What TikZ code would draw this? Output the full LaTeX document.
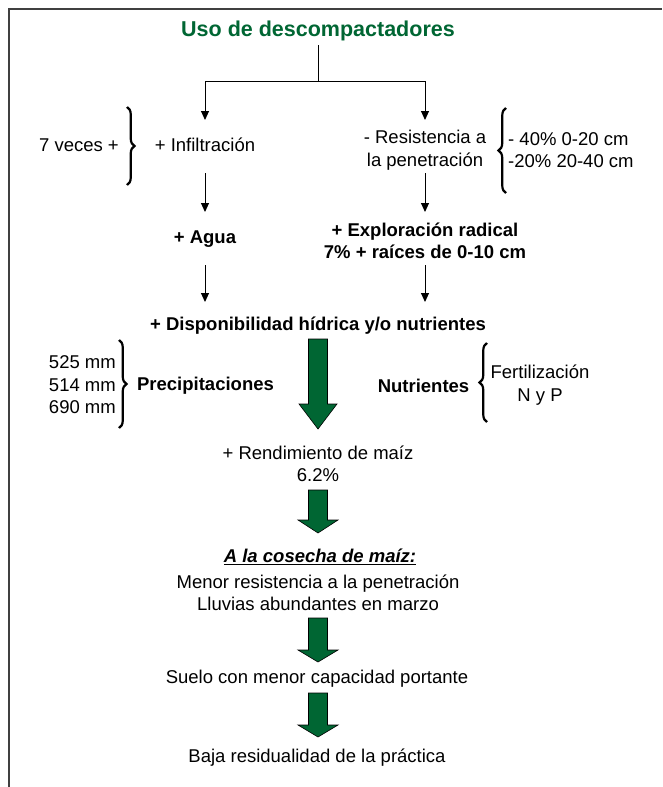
\documentclass[tikz,border=0pt]{standalone}
\usepackage{fontspec}
\setmainfont{Liberation Sans}
\usetikzlibrary{arrows.meta,decorations.pathreplacing}
\definecolor{dgreen}{RGB}{0,102,51}
\newcommand\GreenArrow[5]{\filldraw[garrow] (#1-9.5,#2) -- (#1+9.5,#2) -- (#1+9.5,#3) -- (#1+#5,#3) -- (#1,#4) -- (#1-#5,#3) -- (#1-9.5,#3) -- cycle;}
\begin{document}
\begin{tikzpicture}[x=1pt,y=-1pt,
  txt/.style={font=\fontsize{18.5}{22.5}\selectfont, inner sep=0pt, align=center},
  bold/.style={txt, font=\fontsize{18.5}{22.5}\selectfont\bfseries},
  arr/.style={line width=1pt, -{Triangle[length=9pt,width=8pt]}},
  ln/.style={line width=1pt},
  brc/.style={decorate, decoration={brace, amplitude=7.5pt}, line width=2.2pt},
  garrow/.style={fill=dgreen, draw=black, line width=0.6pt},
  frame/.style={line width=1.6pt, draw=black!75}]
\useasboundingbox (0,0) rectangle (662,787);
\draw[frame] (9,787) -- (9,9) -- (662,9);

\node[txt, font=\fontsize{21.5}{26}\selectfont\bfseries, text=dgreen] (title) at (318,31) {Uso de descompactadores};
\coordinate (j) at (318,81);
\node[txt] (infil) at (205,145) {+ Infiltración};
\node[txt] (res) at (425,150) {- Resistencia a\\la penetración};
\node[txt, anchor=east] (veces) at (119,145) {7 veces +};
\node[txt, align=left, anchor=west] (pct) at (508,150) {- 40\% 0-20 cm\\-20\% 20-40 cm};
\node[bold] (agua) at (205,239) {+ Agua};
\node[bold] (expl) at (425,241) {+ Exploración radical\\7\% + raíces de 0-10 cm};
\node[bold] (disp) at (318,326) {+ Disponibilidad hídrica y/o nutrientes};
\node[txt, align=right, anchor=east] (mm) at (116,385) {525 mm\\514 mm\\690 mm};
\node[bold] (prec) at (205.5,386) {Precipitaciones};
\node[bold] (nutr) at (423.5,386) {Nutrientes};
\node[txt] (fert) at (540,385) {Fertilización\\N y P};
\node[txt] (rend) at (318,464) {+ Rendimiento de maíz\\6.2\%};
\node[txt, font=\fontsize{18.5}{22.5}\selectfont\bfseries\itshape] (cos) at (320,557) {\underline{A la cosecha de maíz:}};
\node[txt] (menor) at (318,593) {Menor resistencia a la penetración\\Lluvias abundantes en marzo};
\node[txt] (suelo) at (317,679) {Suelo con menor capacidad portante};
\node[txt] (baja) at (317,758) {Baja residualidad de la práctica};

\draw[ln, shorten <=14pt] (title.center) -- (j);
\draw[arr, shorten >=25pt] (j) -| (infil.center);
\draw[arr, shorten >=30pt] (j) -| (res.center);
\draw[arr, shorten <=28pt, shorten >=27pt] (infil.center) -- (agua.center);
\draw[arr, shorten <=23pt, shorten >=29pt] (res.center) -- (expl.center);
\draw[arr, shorten <=26pt, shorten >=24pt] (agua.center) -- (agua.center |- disp.center);
\draw[arr, shorten <=24pt, shorten >=24pt] (expl.center) -- (expl.center |- disp.center);

\draw[brc] (127,107) -- (127,185);
\draw[brc] (506,193) -- (506,108);
\draw[brc] (119,340) -- (119,428);
\draw[brc] (487,422) -- (487,343);

\GreenArrow{318}{339}{404}{429}{19}
\GreenArrow{318}{490}{520}{533}{20}
\GreenArrow{318}{618}{650}{662}{20}
\GreenArrow{318}{693}{725}{737}{20}
\end{tikzpicture}
\end{document}
